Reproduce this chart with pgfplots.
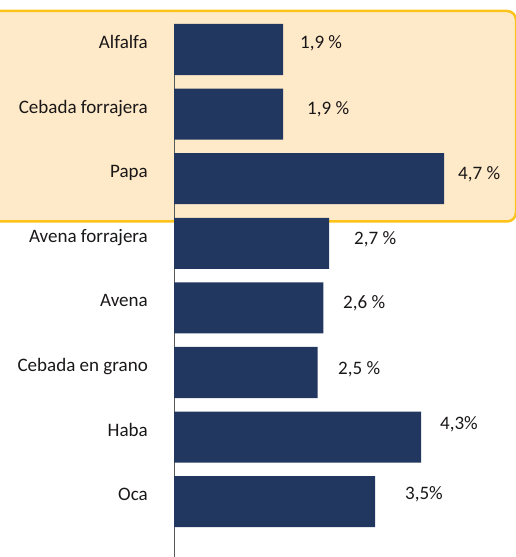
\documentclass[border=0pt]{standalone}
\usepackage{pgfplots}
\pgfplotsset{compat=1.18}
\usepackage{fontspec}
\setmainfont{Carlito}
\definecolor{barblue}{HTML}{22375F}
\definecolor{boxfill}{HTML}{FEEAC8}
\definecolor{boxline}{HTML}{FDC31A}
\definecolor{txt}{HTML}{1A1718}
\newcommand{\lbl}{\fontsize{19.1}{22}\selectfont}
\begin{document}
\begin{tikzpicture}
\useasboundingbox (0,0) rectangle (516bp,557bp);
% highlighted group (cut at the left edge)
\begin{scope}
  \clip (0,0) rectangle (516bp,557bp);
  \draw[boxline, line width=2.5bp, fill=boxfill, rounded corners=9bp]
    (-20bp,546bp) rectangle (516bp,335.5bp);
\end{scope}
\begin{axis}[
    at={(174bp,0)}, anchor=south west,
    scale only axis, width=342bp, height=533bp,
    xmin=0, xmax=5.948,
    ymin=-0.3947, ymax=7.856,
    y dir=reverse,
    xbar, bar shift=0pt, bar width=0.79,
    axis x line=none,
    axis y line*=left,
    y axis line style={draw=gray!70!black, line width=0.8bp, -},
    ytick={0,...,7},
    yticklabels={Alfalfa, Cebada forrajera, Papa, Avena forrajera, Avena, Cebada en grano, Haba, Oca},
    major tick length=0pt,
    yticklabel style={anchor=base east, inner sep=0pt, xshift=-26bp, yshift=1bp, text=txt, font=\lbl},
    clip=false,
]
\addplot[fill=barblue, draw=none] coordinates {
  (1.9,0) (1.9,1) (4.7,2) (2.7,3) (2.6,4) (2.5,5) (4.3,6) (3.5,7)};
\begin{scope}[every node/.style={anchor=base west, inner sep=0pt, text=txt, font=\lbl}]
\node at (axis cs:2.19,-0.015) {1,9 \%};
\node at (axis cs:2.313,1.006) {1,9 \%};
\node at (axis cs:4.939,2.012) {4,7 \%};
\node at (axis cs:3.130,3.019) {2,7 \%};
\node at (axis cs:2.939,4.009) {2,6 \%};
\node at (axis cs:2.852,5.031) {2,5 \%};
\node at (axis cs:4.626,5.882) {4,3\%};
\node at (axis cs:4.017,6.966) {3,5\%};
\end{scope}
\end{axis}
\end{tikzpicture}
\end{document}
